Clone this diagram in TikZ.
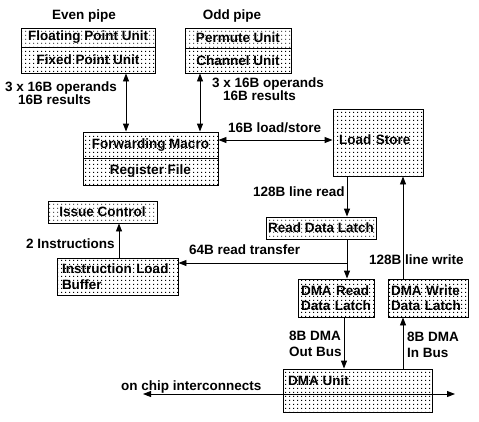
\documentclass[tikz,border=0pt]{standalone}
\usepackage{fontspec}
\setmainfont{Liberation Sans}
\usetikzlibrary{arrows.meta,patterns,calc}
\pgfdeclarepatternformonly{dotgrid}{\pgfpointorigin}{\pgfqpoint{4pt}{4pt}}{\pgfqpoint{4pt}{4pt}}{%
  \pgfpathrectangle{\pgfqpoint{1.5pt}{1.5pt}}{\pgfqpoint{1pt}{1pt}}\pgfusepath{fill}}
\begin{document}
\begin{tikzpicture}[x=1pt,y=-1pt,
  txt/.style={font=\bfseries\fontsize{13.5}{15.5}\selectfont},
  box/.style={txt,draw,line width=0.9pt,pattern=dotgrid,inner sep=0pt},
  lbl/.style={txt,inner sep=0pt,anchor=base west},
  mlbl/.style={txt,inner sep=0pt,anchor=north west,align=left},
  arr/.style={line width=0.9pt,-{Triangle[length=8pt,width=6pt]}},
  dbl/.style={line width=0.9pt,{Triangle[length=8pt,width=6pt]}-{Triangle[length=8pt,width=6pt]}}]
\useasboundingbox (0,0) rectangle (479,421);
% boxes
\node[box,minimum width=134pt,minimum height=19pt] (fpu) at (88,37.5) {Floating Point Unit};
\node[box,minimum width=134pt,minimum height=26pt] (fxu) at (88,60) {Fixed Point Unit};
\node[box,minimum width=106pt,minimum height=20pt] (pu) at (238,38) {Permute Unit};
\node[box,minimum width=106pt,minimum height=25pt] (cu) at (238,60.5) {Channel Unit};
\node[box,minimum width=135pt,minimum height=26pt] (fm) at (150.5,145) {Forwarding Macro};
\node[box,minimum width=135pt,minimum height=27pt] (rf) at (150.5,171.5) {Register File};
\node[box,minimum width=90pt,minimum height=67pt,text width=78pt,inner xsep=6pt,align=left,text depth=6pt] (ls) at (378,142.5) {Load Store};
\node[box,minimum width=109pt,minimum height=22pt] (ic) at (102.5,212) {Issue Control};
\node[box,minimum width=121pt,minimum height=37pt,text width=111pt,inner xsep=5pt,align=left] (ilb) at (117.5,276.5) {Instruction Load\\Buffer};
\node[box,minimum width=110pt,minimum height=22pt] (rdl) at (321,228) {Read Data Latch};
\node[box,minimum width=76pt,minimum height=38pt,text width=70pt,inner xsep=3pt,align=left] (dmr) at (336,298) {DMA Read\\Data Latch};
\node[box,minimum width=80pt,minimum height=38pt,text width=74pt,inner xsep=3pt,align=left] (dmw) at (428,298) {DMA Write\\Data Latch};
\node[box,minimum width=149pt,minimum height=43pt] (dma) at (357.5,390.5) {};
\node[lbl] (dmat) at (288,385) {DMA Unit};
% helper coordinates
\coordinate (c1) at (126,0);
\coordinate (c2) at (200,0);
\coordinate (c3) at (0,140);
\coordinate (c4) at (347,0);
\coordinate (c5) at (0,263);
\coordinate (c6) at (119,0);
\coordinate (c7) at (403,0);
\coordinate (c8) at (344,0);
\coordinate (ocl) at (143,394);
\coordinate (ocr) at (455,394);
% connectors
\draw[dbl] (fxu.south -| c1) -- (fm.north -| c1);
\draw[dbl] (cu.south -| c2) -- (fm.north -| c2);
\draw[dbl] (fm.east |- c3) -- (ls.west |- c3);
\draw[arr] (ls.south -| c4) -- (rdl.north -| c4);
\draw[arr] (rdl.south -| c4) -- (dmr.north -| c4);
\draw[arr] (c4 |- c5) -- (ilb.east |- c5);
\draw[arr] (ilb.north -| c6) -- (ic.south -| c6);
\draw[arr] (dmw.north -| c7) -- (ls.south -| c7);
\draw[arr] (dmr.south -| c8) -- (dma.north -| c8);
\draw[arr] (dma.north -| c7) -- (dmw.south -| c7);
\draw[dbl] (ocl) -- (ocr);
% labels
\node[txt,inner sep=0pt] (even) at (84,16) {Even pipe};
\node[txt,inner sep=0pt] (odd) at (232,16) {Odd pipe};
\node[lbl] (e1) at (5,91) {3 x 16B operands};
\node[lbl] (e2) at (18,104) {16B results};
\node[lbl] (o1) at (212,87) {3 x 16B operands};
\node[lbl] (o2) at (223,100) {16B results};
\node[lbl] (lsl) at (228,132) {16B load/store};
\node[lbl] (lr) at (253,196) {128B line read};
\node[lbl] (ins) at (26,248) {2 Instructions};
\node[lbl] (rt) at (189,254) {64B read transfer};
\node[lbl] (lw) at (369,264) {128B line write};
\node[mlbl] (ob) at (289,331) {8B DMA\\Out Bus};
\node[mlbl] (ib) at (407,332) {8B DMA\\In Bus};
\node[lbl] (oci) at (121,390) {on chip interconnects};
\end{tikzpicture}
\end{document}
